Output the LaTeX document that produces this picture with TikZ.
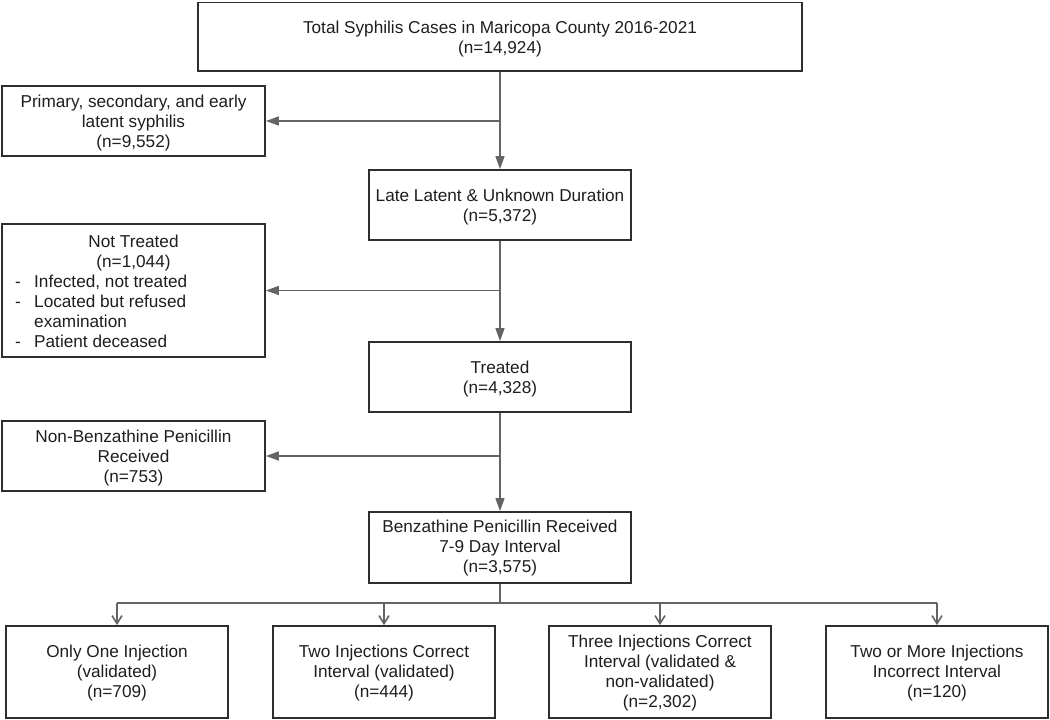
\documentclass[tikz,border=0pt]{standalone}
\usepackage{fontspec}
\setmainfont{Liberation Sans}
\usetikzlibrary{arrows.meta}
\definecolor{boxline}{HTML}{2E2E2E}
\definecolor{arrline}{HTML}{646464}
\definecolor{txt}{HTML}{1E1E1E}
\begin{document}
\begin{tikzpicture}[x=1pt,y=-1pt,
  box/.style={draw=boxline, line width=1.8pt, inner sep=0pt},
  conn/.style={draw=arrline, line width=1.6pt},
  arr/.style={conn, -{Triangle[length=13pt,width=9pt]}},
  barb/.style={conn, -{Straight Barb[length=8pt,width=10pt,line width=1.6pt]}},
  lbl/.style={inner sep=0pt, text=txt, align=center,
    font=\fontsize{17.2}{20}\selectfont}]
\useasboundingbox (0,0) rectangle (1050,720);

% main column boxes
\node[box, minimum width=604pt, minimum height=68.5pt] (top) at (500,36.75) {};
\node[box, minimum width=262pt, minimum height=70pt] (late) at (500,205) {};
\node[box, minimum width=262pt, minimum height=70pt] (treated) at (500,377) {};
\node[box, minimum width=262pt, minimum height=71pt] (benz) at (500,547.5) {};
% left column boxes
\node[box, minimum width=263pt, minimum height=70pt] (early) at (133.5,121) {};
\node[box, minimum width=263pt, minimum height=133pt] (nottreated) at (133.5,290.5) {};
\node[box, minimum width=263pt, minimum height=70pt] (nonbenz) at (133.5,456) {};
% bottom row boxes
\node[box, minimum width=222pt, minimum height=92pt] (b1) at (117,672) {};
\node[box, minimum width=222pt, minimum height=92pt] (b2) at (384,672) {};
\node[box, minimum width=222pt, minimum height=92pt] (b3) at (660,672) {};
\node[box, minimum width=222pt, minimum height=92pt] (b4) at (937,672) {};

% texts
\node[lbl] (top-t) at ([yshift=-2.5pt]top.center)
  {Total Syphilis Cases in Maricopa County 2016-2021\\(n=14,924)};
\node[lbl] (late-t) at ([yshift=-2.5pt]late.center)
  {Late Latent \& Unknown Duration\\(n=5,372)};
\node[lbl] (treated-t) at ([yshift=-2.5pt]treated.center)
  {Treated\\(n=4,328)};
\node[lbl] (benz-t) at ([yshift=-1pt]benz.center)
  {Benzathine Penicillin Received\\7-9 Day Interval\\(n=3,575)};
\node[lbl] (early-t) at ([yshift=-2.5pt]early.center)
  {Primary, secondary, and early\\latent syphilis\\(n=9,552)};
\node[lbl] (nonbenz-t) at ([yshift=-2.5pt]nonbenz.center)
  {Non-Benzathine Penicillin\\Received\\(n=753)};
\node[lbl, anchor=base] (nt1) at (133.5,247) {Not Treated};
\node[lbl, anchor=base] (nt2) at (133.5,267) {(n=1,044)};
\node[lbl, anchor=base west] (d1) at (15,287) {-};
\node[lbl, anchor=base west] (nt3) at (34,287) {Infected, not treated};
\node[lbl, anchor=base west] (d2) at (15,307) {-};
\node[lbl, anchor=base west] (nt4) at (34,307) {Located but refused};
\node[lbl, anchor=base west] (nt5) at (34,327) {examination};
\node[lbl, anchor=base west] (d3) at (15,347) {-};
\node[lbl, anchor=base west] (nt6) at (34,347) {Patient deceased};
\node[lbl] (b1-t) at ([yshift=-1pt]b1.center)
  {Only One Injection\\(validated)\\(n=709)};
\node[lbl] (b2-t) at ([yshift=-1pt]b2.center)
  {Two Injections Correct\\Interval (validated)\\(n=444)};
\node[lbl] (b3-t) at ([yshift=-1pt]b3.center)
  {Three Injections Correct\\Interval (validated \&\\non-validated)\\(n=2,302)};
\node[lbl] (b4-t) at ([yshift=-1pt]b4.center)
  {Two or More Injections\\Incorrect Interval\\(n=120)};

% connectors
\draw[arr] (top.south) -- (late.north);
\draw[arr] (early.east -| top.south) -- (early.east);
\draw[arr] (late.south) -- (treated.north);
\draw[arr] (nottreated.east -| late.south) -- (nottreated.east);
\draw[arr] (treated.south) -- (benz.north);
\draw[arr] (nonbenz.east -| treated.south) -- (nonbenz.east);

\coordinate (bus) at (500,603);
\draw[conn] (benz.south) -- (bus);
\draw[conn] (bus -| b1.north) -- (bus -| b4.north);
\draw[barb] (bus -| b1.north) -- (b1.north);
\draw[barb] (bus -| b2.north) -- (b2.north);
\draw[barb] (bus -| b3.north) -- (b3.north);
\draw[barb] (bus -| b4.north) -- (b4.north);
\end{tikzpicture}
\end{document}
